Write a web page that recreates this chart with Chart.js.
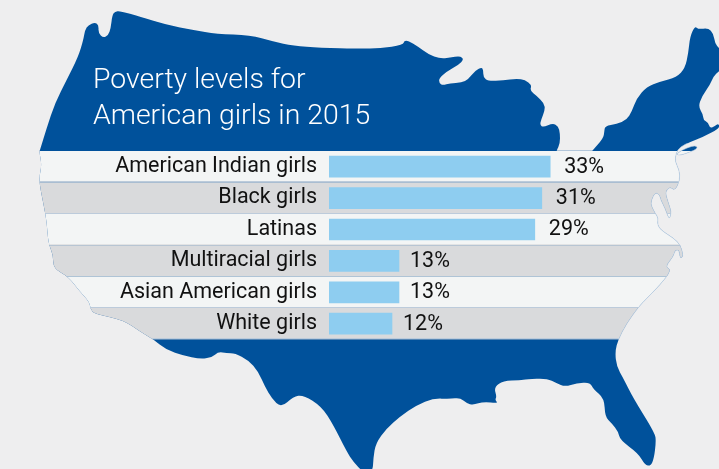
<!DOCTYPE html>
<html><head><meta charset="utf-8">
<style>html,body{margin:0;padding:0;background:#eeeeef}canvas{display:block}</style>
<script src="https://cdn.jsdelivr.net/npm/chart.js@4"></script>
</head><body><canvas id="c" width="719" height="469"></canvas>
<script>
const titleLines = ["Poverty levels for", "American girls in 2015"];
const categories = ["American Indian girls","Black girls","Latinas","Multiracial girls","Asian American girls","White girls"];
const valueLabels = ["33%","31%","29%","13%","13%","12%"];
// Drawn bar lengths (the printed labels are not strictly to scale).
const barLengths = [31.6,30.4,29.4,10,10,9];
const mapOutline = [[40,150],[46.7,128],[55,103],[66.7,80],[78.3,56.7],[83.3,40],[85,30],[88.3,25],[95,22.3],[98.7,25],[98.3,33],[103.3,38],[108.3,35],[110.7,28.3],[112.3,15],[115,11.7],[120,11],[140,16.7],[166.7,25],[193.3,30],[216.7,34],[250,35],[273.3,41.7],[293.3,45.7],[320,47.7],[360,48.7],[380,48.3],[403.3,45],[404,40.7],[408.3,40.7],[418.3,46.7],[428.3,54.3],[440,58.7],[450,57.7],[460,56],[464,59.3],[458.3,65],[446.7,71.7],[439,78.3],[439.3,83.3],[442.7,85.3],[450,83.3],[461.7,82.7],[468.3,79.3],[475,70.7],[481.7,67.3],[483.3,70],[483.3,77.3],[488.3,81],[503.3,80.3],[516.7,78.7],[525,80],[531.7,85],[530,90.7],[536.7,96],[544.3,103.3],[545,110],[541,120],[540,125],[543.3,127.3],[552.7,123.3],[558.3,126],[560,133.3],[560,143.3],[556.7,150.7],[556.7,150.7],[592.3,150.7],[592.3,150.7],[603.3,138.3],[604.3,131.7],[605,126],[616.7,124],[626.7,120],[631.7,111.7],[636.7,98.3],[646.7,86.7],[660,81.7],[676.7,77.3],[685,68.3],[688.3,53.3],[690,36.7],[695,26],[698.3,29.3],[708.3,28],[713.3,33.3],[715,43.3],[719,48.3],[724,52],[724,68],[719,71],[713.3,76.7],[710,85],[701.7,96.7],[698.3,106.7],[703.3,115],[703.3,120],[708.3,122.7],[710,128.3],[715,126],[718.3,123.3],[720,128],[703,137],[690,142],[680,147],[676,153],[675,161.7],[679.3,170],[680,180],[675,190.7],[670,186.7],[665,191.7],[668,201.7],[670.7,210],[671,213],[669.3,220],[665,208],[660.7,200],[660,195],[655,192.3],[650.7,201.7],[651.7,206.7],[655,213],[658.3,218],[657.3,225],[661.7,230.7],[673.3,238],[680.7,245],[683.3,256.7],[680,258.3],[679.3,250],[675,250],[673.3,256.7],[665,266.7],[671.7,270],[660,285],[646.7,298.3],[638.3,307.3],[626.7,323.3],[618.3,339.3],[615,351.7],[616.7,366.7],[623.3,378.3],[633.3,398.3],[655,433.3],[656,441.7],[654,458.3],[650.7,466],[645,465],[638.3,453.3],[620,440],[618.3,431.7],[611.7,423.3],[605,416.7],[604.3,398.3],[593.3,389],[590,382.3],[576.7,383.3],[565,386.7],[556.7,383.3],[546.7,378.3],[526.7,379.3],[520,380.3],[503.3,380.7],[494,387.3],[496.7,396.7],[495,400],[498.3,403.3],[483.3,401.7],[473.3,405],[466.7,403.3],[460,397.7],[450,399],[433.3,398.3],[416.7,405],[400,416.7],[386.7,428.3],[375.7,443.3],[373.3,458.3],[372.7,472],[362.7,472],[353.3,461.7],[346.7,451.7],[333.3,425],[321.7,406.7],[303.3,395],[293.3,396.7],[281,407.7],[271.7,398.3],[265,386.7],[258.3,371.7],[248.3,360],[235,353.3],[226.7,353.3],[218.3,351.7],[211.7,357.7],[200,359],[183.3,355.7],[166.7,350],[153.3,339.3],[140,331.7],[123.3,320],[95,314],[90.7,310],[89.3,301.7],[80,291.7],[68.3,276.7],[53.3,268.3],[53.3,255],[48.3,243.3],[46.7,221.7],[44,206.7],[40,186.7],[39.3,176.7],[41.7,165],[39.3,151.7]];
const mapIsland = [[676,154.5],[682,150],[692,146],[697,146],[697,149],[690,152],[680,155.5]];

const BLUE="#00519b", LIGHT="#f3f5f5", GRAY="#d9dadc", RULE="#bccbdb", BAR="#8ecdf0", INK="#111111";
const bodyFont="Roboto";

function trace(ctx, pts){
  const n=pts.length;
  const mid=(a,b)=>[(a[0]+b[0])/2,(a[1]+b[1])/2];
  let s=mid(pts[n-1],pts[0]);
  ctx.moveTo(s[0],s[1]);
  for(let i=0;i<n;i++){
    const m=mid(pts[i],pts[(i+1)%n]);
    ctx.quadraticCurveTo(pts[i][0],pts[i][1],m[0],m[1]);
  }
  ctx.closePath();
}
function mapPath(ctx){ctx.beginPath();trace(ctx,mapOutline);trace(ctx,mapIsland);}

const mapPlugin={
  id:"mapBands",
  beforeDraw(chart){
    const ctx=chart.ctx, y=chart.scales.y, a=chart.chartArea;
    ctx.save();
    mapPath(ctx);ctx.fillStyle=BLUE;ctx.fill();
    ctx.save();
    mapPath(ctx);ctx.clip();
    const step=(a.bottom-a.top)/categories.length;
    categories.forEach((c,i)=>{
      const cy=y.getPixelForValue(i);
      ctx.fillStyle=i%2?GRAY:LIGHT;
      ctx.fillRect(0,cy-step/2,chart.width,step);
    });
    categories.forEach((c,i)=>{
      if(i===3) return;
      const cy=y.getPixelForValue(i)+step/2;
      ctx.fillStyle=i===2?"#e2e3e4":RULE;
      ctx.fillRect(0,Math.round(cy)-1,chart.width,1);
    });
    ctx.restore();
    ctx.save();
    ctx.beginPath();
    ctx.rect(600,a.top-8,119,a.bottom-a.top+8);
    ctx.clip();
    mapPath(ctx);ctx.strokeStyle="#bfd2e4";ctx.lineWidth=0.6;ctx.stroke();
    ctx.restore();
    ctx.restore();
  },
  afterDatasetsDraw(chart){
    const ctx=chart.ctx, meta=chart.getDatasetMeta(0);
    ctx.save();
    ctx.fillStyle=INK;ctx.font="21.5px "+bodyFont;ctx.textAlign="left";ctx.textBaseline="middle";
    meta.data.forEach((b,i)=>{ctx.fillText(valueLabels[i],b.x+(valueLabels[i][0]==="1"?11:14),b.y+0.5);});
    ctx.fillStyle="#ffffff";ctx.font="300 28.4px "+bodyFont;ctx.textBaseline="alphabetic";
    titleLines.forEach((t,i)=>ctx.fillText(t,93,88+i*36));
    ctx.restore();
  }
};

new Chart(document.getElementById("c"),{
  type:"bar",
  data:{labels:categories,datasets:[{data:barLengths,backgroundColor:BAR,barThickness:21,borderWidth:0}]},
  plugins:[mapPlugin],
  options:{
    indexAxis:"y",responsive:false,animation:false,
    layout:{padding:{top:151,bottom:129.6,left:0,right:0}},
    plugins:{legend:{display:false},tooltip:{enabled:false},title:{display:false}},
    scales:{
      x:{display:false,min:0,max:390/7},
      y:{grid:{display:false,drawTicks:false},border:{display:false},
         afterFit(s){s.width=329;},
         ticks:{color:INK,padding:12,font:{family:bodyFont,size:21.5},autoSkip:false}}
    }
  }
});
</script></body></html>
